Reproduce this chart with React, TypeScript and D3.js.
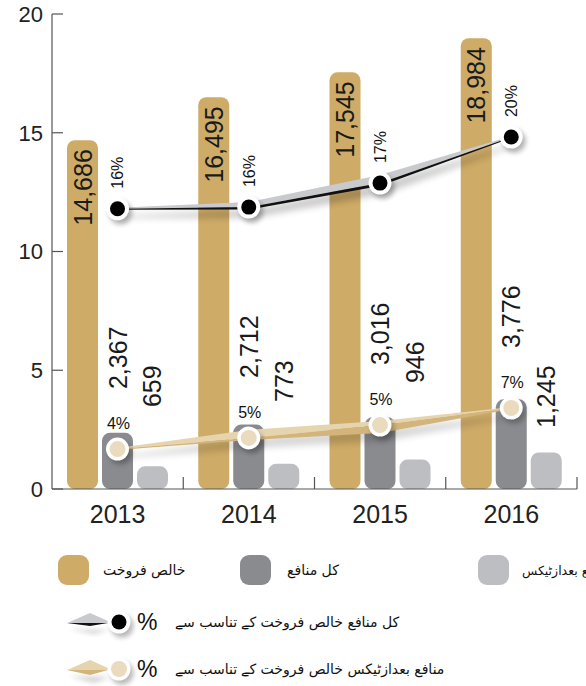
import React from 'react';
import * as d3 from 'd3';

const years = ['2013', '2014', '2015', '2016'];
const netSales = [14.686, 16.495, 17.545, 18.984];
const grossProfit = [2.367, 2.712, 3.016, 3.776];
const profitAfterTax = [0.659, 0.773, 0.946, 1.245];
const netSalesLabels = ['14,686', '16,495', '17,545', '18,984'];
const grossProfitLabels = ['2,367', '2,712', '3,016', '3,776'];
const profitAfterTaxLabels = ['659', '773', '946', '1,245'];
const grossMarginLabels = ['16%', '16%', '17%', '20%'];
const grossMarginLevel = [11.8, 11.87, 12.88, 14.82];
const netMarginLabels = ['4%', '5%', '5%', '7%'];
const netMarginLevel = [1.68, 2.15, 2.69, 3.41];
const yTicks = [0, 5, 10, 15, 20];
const seriesKeys = ['sales', 'gross', 'net'];

const legendBars = ['خالص فروخت', 'کل منافع', 'منافع بعدازٹیکس'];
const legendLines = ['کل منافع خالص فروخت کے تناسب سے', 'منافع بعدازٹیکس خالص فروخت کے تناسب سے'];

// layout / style constants
const W = 586, H = 686;
const GOLD = '#CEAB67', DARK = '#8A8B8F', LIGHT = '#BDBEC2';
const BEIGE_LIGHT = '#E6D4AE', BEIGE_DARK = '#D3B47A', BEIGE_DOT = '#EADBBF';
const RIB_GRAY = '#C9CACD';
const NUM_FONT = '"Liberation Sans", Arial, sans-serif';
const URDU_FONT = '"DejaVu Sans", "Noto Sans", sans-serif';
const grossUp = [1, 5, 8, 1], grossDown = [1, 2.5, 3, 1];
const netUp = [1, 8, 4, 1], netDown = [1, 2, 8, 1];
const lightBarLift = 7;
const lightLabelDrop = [18, 24, 18, 80];

const line = d3.line();

function ribbonPaths(xs: number[], ys: number[], up: number[], down: number[]) {
  const top = xs.map((x, i) => [x, ys[i] - up[i]] as [number, number]);
  const mid = xs.map((x, i) => [x, ys[i]] as [number, number]);
  const bot = xs.map((x, i) => [x, ys[i] + down[i]] as [number, number]);
  return {
    upper: line([...top, ...mid.slice().reverse()]) + 'Z',
    lower: line([...mid, ...bot.slice().reverse()]) + 'Z',
    whole: line([...top, ...bot.slice().reverse()]) + 'Z',
  };
}

export default function App() {
  const y = d3.scaleLinear().domain([0, 20]).range([489, 14]);
  const x = d3.scaleBand().domain(years).range([52, 577]).padding(0);
  const inner = d3.scaleBand().domain(seriesKeys).range([15, 116]).paddingInner(0.114).paddingOuter(0);
  const bw = inner.bandwidth();
  const cx = (yr: string, k: string) => (x(yr) as number) + (inner(k) as number) + bw / 2;

  const gxs = years.map(yr => cx(yr, 'gross'));
  const gys = grossMarginLevel.map(v => y(v));
  const nys = netMarginLevel.map(v => y(v));
  const gR = ribbonPaths(gxs, gys, grossUp, grossDown);
  const nR = ribbonPaths(gxs, nys, netUp, netDown);

  const bar = (yr: string, k: string, v: number, fill: string, lift = 0) => {
    const top = y(v) - lift;
    return (
      <rect key={yr + k} x={(x(yr) as number) + (inner(k) as number)} y={top} width={bw}
        height={y(0) - top} rx={8} ry={8} fill={fill} />
    );
  };

  const legIconY = [622, 669];

  return (
    <svg width={W} height={H} style={{ position: 'absolute', left: 0, top: 0, background: '#fff' }}
      fontFamily={NUM_FONT}>
      <defs>
        <filter id="blur" x="-20%" y="-50%" width="140%" height="200%">
          <feGaussianBlur stdDeviation="3.5" />
        </filter>
        <filter id="blurS" x="-50%" y="-50%" width="200%" height="200%">
          <feGaussianBlur stdDeviation="2.5" />
        </filter>
      </defs>

      {/* bars */}
      {years.map((yr, i) => (
        <g key={yr}>
          {bar(yr, 'sales', netSales[i], GOLD)}
          {bar(yr, 'gross', grossProfit[i], DARK)}
          {bar(yr, 'net', profitAfterTax[i], LIGHT, lightBarLift)}
        </g>
      ))}

      {/* axes */}
      <line x1={52} x2={52} y1={y(20)} y2={y(0)} stroke="#555" strokeWidth={1.2} />
      <line x1={52} x2={577} y1={y(0)} y2={y(0)} stroke="#555" strokeWidth={1.2} />
      {yTicks.map(t => (
        <g key={t}>
          <line x1={52} x2={63} y1={y(t)} y2={y(t)} stroke="#555" strokeWidth={1.2} />
          <text x={43} y={y(t)} dy="0.36em" textAnchor="end" fontSize={22} fill="#222">{t}</text>
        </g>
      ))}
      {years.map(yr => {
        const xe = (x(yr) as number) + x.bandwidth();
        return <line key={'t' + yr} x1={xe} x2={xe} y1={y(0)} y2={y(0) - 12} stroke="#555" strokeWidth={1.2} />;
      })}
      {years.map(yr => (
        <text key={'l' + yr} x={(x(yr) as number) + x.bandwidth() / 2} y={523} textAnchor="middle"
          fontSize={25} fill="#222">{yr}</text>
      ))}

      {/* value labels */}
      {years.map((yr, i) => {
        const sx = cx(yr, 'sales');
        const st = y(netSales[i]) + 9;
        const gx = cx(yr, 'gross');
        const gEnd = nys[i] - 60;
        const nx = cx(yr, 'net');
        const nEnd = gEnd + lightLabelDrop[i];
        return (
          <g key={'v' + yr} fontSize={25} fill="#1a1a1a">
            <text transform={`translate(${sx},${st}) rotate(-90)`} textAnchor="end" dy="0.36em">{netSalesLabels[i]}</text>
            <text transform={`translate(${gx},${gEnd}) rotate(-90)`} textAnchor="start" dy="0.36em">{grossProfitLabels[i]}</text>
            <text transform={`translate(${nx},${nEnd}) rotate(-90)`} textAnchor="start" dy="0.36em">{profitAfterTaxLabels[i]}</text>
          </g>
        );
      })}

      {/* ribbon shadows */}
      <path d={gR.whole} transform="translate(3,8)" fill="#000" opacity={0.22} filter="url(#blur)" />
      <path d={nR.whole} transform="translate(3,8)" fill="#000" opacity={0.16} filter="url(#blur)" />

      {/* ribbons */}
      <path d={gR.upper} fill={RIB_GRAY} />
      <path d={gR.lower} fill="#111" />
      <path d={nR.upper} fill={BEIGE_LIGHT} />
      <path d={nR.lower} fill={BEIGE_DARK} />

      {/* markers */}
      {years.map((yr, i) => (
        <g key={'m' + yr}>
          <circle cx={gxs[i] + 3} cy={gys[i] + 4} r={11.5} fill="#000" opacity={0.3} filter="url(#blurS)" />
          <circle cx={gxs[i]} cy={gys[i]} r={11.5} fill="#fff" />
          <circle cx={gxs[i]} cy={gys[i]} r={7.5} fill="#000" />
          <circle cx={gxs[i] + 3} cy={nys[i] + 4} r={11.5} fill="#000" opacity={0.25} filter="url(#blurS)" />
          <circle cx={gxs[i]} cy={nys[i]} r={11.5} fill="#fff" />
          <circle cx={gxs[i]} cy={nys[i]} r={8} fill={BEIGE_DOT} />
          <text transform={`translate(${gxs[i]},${gys[i] - 20}) rotate(-90)`} textAnchor="start" dy="0.36em"
            fontSize={16} fill="#111">{grossMarginLabels[i]}</text>
          <text x={gxs[i] + 1} y={nys[i] - 20} textAnchor="middle" fontSize={16} fill="#111">{netMarginLabels[i]}</text>
        </g>
      ))}

      {/* legend row 1 */}
      {[GOLD, DARK, LIGHT].map((c, i) => {
        const sx = [58, 240, 478][i];
        const tx = [103, 287, 522][i];
        return (
          <g key={'lg' + i}>
            <rect x={sx} y={555} width={31} height={30} rx={9} fill={c} />
            <text x={tx} y={575} fontSize={i === 2 ? 12.5 : 14} fontFamily={URDU_FONT} fill="#111">{legendBars[i]}</text>
          </g>
        );
      })}

      {/* legend rows 2,3 */}
      {legendLines.map((lab, i) => {
        const cy = legIconY[i];
        const up = i === 0 ? RIB_GRAY : BEIGE_LIGHT;
        const dn = i === 0 ? '#111' : BEIGE_DARK;
        const dnH = i === 0 ? 3 : 5;
        return (
          <g key={'ll' + i}>
            <path d={`M67,${cy + 1} L92,${cy + 1 + dnH + 2} L108,${cy + 2} Z`} transform="translate(2,6)" fill="#000" opacity={0.18} filter="url(#blurS)" />
            <path d={`M67,${cy + 1} L90,${cy - 9} L108,${cy - 1} L108,${cy + 1} Z`} fill={up} />
            <path d={`M67,${cy + 1} L90,${cy + 1 + dnH} L108,${cy + 1} Z`} fill={dn} />
            <circle cx={122} cy={cy + 4} r={11.5} fill="#000" opacity={0.28} filter="url(#blurS)" />
            <circle cx={119} cy={cy} r={11.5} fill="#fff" />
            <circle cx={119} cy={cy} r={i === 0 ? 7.5 : 8} fill={i === 0 ? '#000' : BEIGE_DOT} />
            <text x={137} y={cy + 8} fontSize={23} fill="#111">%</text>
            <text x={175} y={cy + 5} fontSize={14} fontFamily={URDU_FONT} fill="#111">{lab}</text>
          </g>
        );
      })}
    </svg>
  );
}
